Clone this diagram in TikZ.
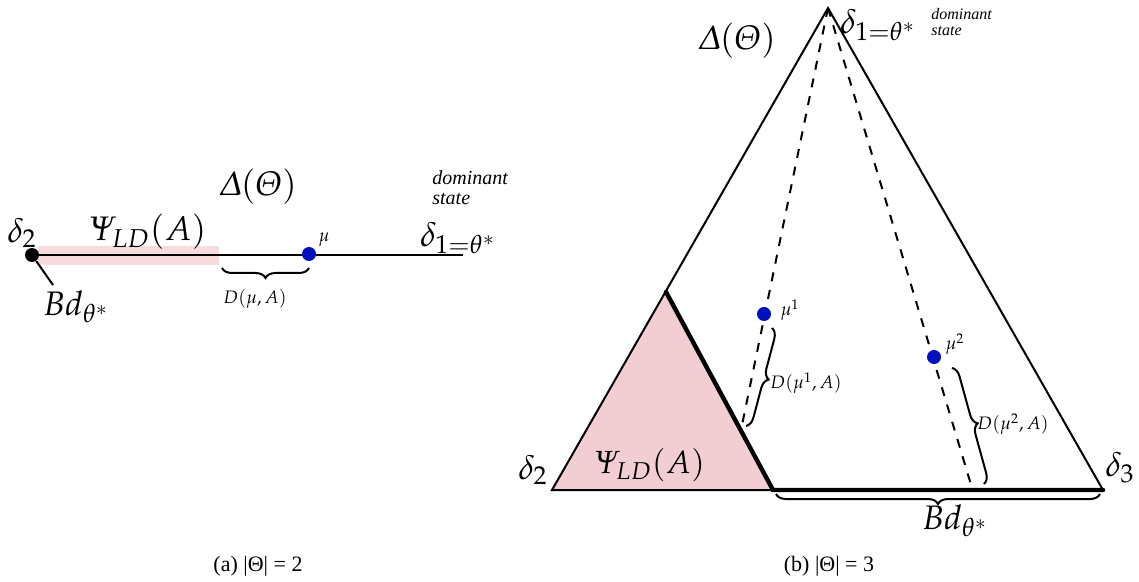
\documentclass[tikz,border=0pt]{standalone}
\usepackage[slantedGreek]{mathpazo}
\usepackage{fontspec}
\setmainfont{Liberation Serif}
\usetikzlibrary{decorations.pathreplacing}
\definecolor{pinkA}{RGB}{246,220,220}
\definecolor{pinkB}{RGB}{242,206,211}
\definecolor{dotblue}{RGB}{0,16,190}
\tikzset{
  thinline/.style={line width=1pt,black},
  thickline/.style={line width=2.2pt,black},
  dashline/.style={line width=1pt,dash pattern=on 4.5pt off 4.5pt},
  bluedot/.style={circle,fill=dotblue,inner sep=0pt,minimum size=7pt},
  blackdot/.style={circle,fill=black,inner sep=0pt,minimum size=7pt},
  bigtxt/.style={inner sep=0pt,font=\fontsize{17}{20}\selectfont},
  midtxt/.style={inner sep=0pt,font=\fontsize{16}{19}\selectfont},
  smalltxt/.style={inner sep=0pt,font=\fontsize{9}{11}\selectfont},
  domtxt/.style={inner sep=0pt,align=left,anchor=west,font=\fontsize{#1}{#1}\selectfont\itshape},
  captxt/.style={inner sep=0pt,font=\fontsize{11}{13}\selectfont},
  bracedown/.style={thinline,decorate,decoration={brace,amplitude=5pt,mirror}},
  braceup/.style={thinline,decorate,decoration={brace,amplitude=5pt}},
}
\begin{document}
\begin{tikzpicture}[x=0.5pt,y=-0.5pt]
\useasboundingbox (0,0) rectangle (1139,582);
% ---------------- left panel ----------------
\fill[pinkA] (38,246) rectangle (219,265);
\coordinate (Lend) at (463,255);
\node[blackdot] (d2dot) at (32,255) {};
\draw[thinline] (d2dot.center) -- (Lend);
\node[bluedot] (mu) at (309,254) {};
\coordinate (psiEnd) at (222,268);
\coordinate (muBr) at (309,268);
\draw[bracedown] (psiEnd) -- (muBr);
\coordinate (bdTip) at (53,285);
\draw[thinline] (d2dot) -- (bdTip);
\node[bigtxt] (ld2) at (22,233) {$\delta_2$};
\node[bigtxt] (lpsi) at (148,232) {$\Psi_{LD}(A)$};
\node[bigtxt] (ldelta) at (258,187) {$\Delta(\Theta)$};
\node[domtxt=10] (ldom) at (432,188) {dominant\\state};
\node[bigtxt] (ld1) at (458,238) {$\delta_{1=\theta^*}$};
\node[smalltxt] (lmu) at (324,240) {$\mu$};
\node[smalltxt] (lD) at (255,299) {$D(\mu,A)$};
\node[bigtxt] (lbd) at (76,307) {$Bd_{\theta^*}$};
\node[captxt] (capa) at (258,566) {(a) |Θ| = 2};
% ---------------- right panel ----------------
\coordinate (top) at (828,8);
\coordinate (bl) at (552,490);
\coordinate (br) at (1103,490);
\coordinate (pa) at (666,292);
\coordinate (pb) at (773,490);
\fill[pinkB] (pa) -- (bl) -- (pb) -- cycle;
\draw[thinline,line join=miter] (br) -- (top) -- (bl) -- (pb);
\draw[thickline,line cap=round] (pa) -- (pb) -- (br);
\coordinate (e1) at (742,425);
\coordinate (e2) at (972,488);
\draw[dashline] (top) -- (e1);
\draw[dashline] (top) -- (e2);
\node[bluedot] (mu1) at (764,314) {};
\node[bluedot] (mu2) at (934,357) {};
\node[smalltxt] (lmu1) at (790,310) {$\mu^1$};
\node[smalltxt] (lmu2) at (955,344) {$\mu^2$};
\coordinate (b1s) at (772,328);
\coordinate (b1e) at (746,426);
\draw[braceup] (b1s) -- (b1e);
\coordinate (b2s) at (952,368);
\coordinate (b2e) at (984,484);
\draw[braceup] (b2s) -- (b2e);
\coordinate (b3s) at (776,494);
\coordinate (b3e) at (1100,494);
\draw[bracedown] (b3s) -- (b3e);
\node[smalltxt] (rD1) at (806,383) {$D(\mu^1,A)$};
\node[smalltxt] (rD2) at (1013,424) {$D(\mu^2,A)$};
\node[midtxt] (rpsi) at (650,465) {$\Psi_{LD}(A)$};
\node[bigtxt] (rd2) at (533,470) {$\delta_2$};
\node[bigtxt] (rd3) at (1120,468) {$\delta_3$};
\node[bigtxt] (rdelta) at (737,41) {$\Delta(\Theta)$};
\node[bigtxt] (rd1) at (878,25) {$\delta_{1=\theta^*}$};
\node[domtxt=8] (rdom) at (931,22) {dominant\\state};
\node[bigtxt] (rbd) at (955,521) {$Bd_{\theta^*}$};
\node[captxt] (capb) at (829,566) {(b) |Θ| = 3};
\end{tikzpicture}
\end{document}
